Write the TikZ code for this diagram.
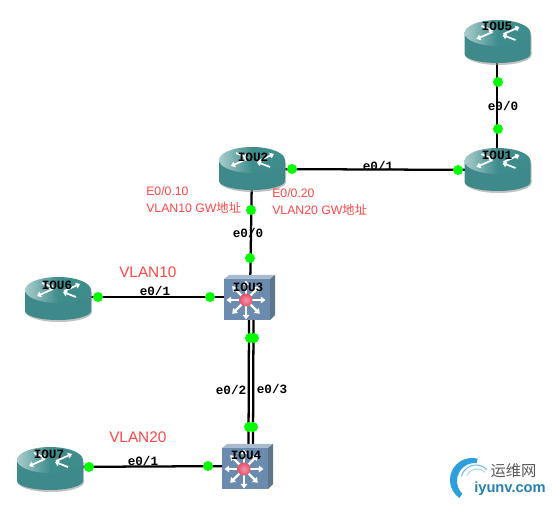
\documentclass[tikz,border=0pt]{standalone}
\usepackage{fontspec}
\setmainfont{Liberation Sans}
\newfontfamily\cjk{Noto Sans CJK SC}
\newfontfamily\lblfont{Liberation Mono}
\usetikzlibrary{arrows.meta}
\definecolor{teal1}{HTML}{3E8A8A}
\definecolor{teal2}{HTML}{A8CCCC}
\definecolor{teal3}{HTML}{3F8C8C}
\definecolor{swfront}{HTML}{6B8CAE}
\definecolor{swtop}{HTML}{A9BBD0}
\definecolor{swside}{HTML}{5F7688}
\definecolor{redtxt}{HTML}{FF4545}
\definecolor{hubred}{HTML}{E8506C}
\definecolor{logoblue}{HTML}{2E9FDC}
\tikzset{
  x=0.75pt,y=-0.75pt,
  anchorbox/.style={inner sep=0pt,minimum size=1pt},
  linkline/.style={line width=1.7pt,black},
  portdot/.style={circle,fill=green,inner sep=0pt,minimum size=7.5pt},
  linklabel/.style={font=\lblfont\bfseries\fontsize{9.5}{10}\selectfont,inner sep=0pt,black},
  devlabel/.style={font=\lblfont\bfseries\fontsize{9.5}{10}\selectfont,inner sep=0pt,black},
  redsmall/.style={font=\fontsize{9.2}{10}\selectfont,text=redtxt,inner sep=0pt,anchor=west},
  redbig/.style={font=\fontsize{11.5}{13}\selectfont,text=redtxt,inner sep=0pt,anchor=west},
  whitearrow/.style={draw=white,line width=1.6pt,-{Triangle[width=5pt,length=3.5pt]}},
  routerarrow/.style={white,line width=1.3pt,-{Triangle[width=4.5pt,length=3pt]}},
  pics/router/.style={code={
    \fill[black!40,opacity=.6] (-32,-8) -- (-32,12) arc[x radius=33,y radius=10,start angle=180,end angle=0] -- (34,-8) -- cycle;
    \fill[teal1] (-33,-10) -- (-33,11) arc[x radius=33,y radius=9,start angle=180,end angle=0] -- (33,-10) -- cycle;
    \shade[left color=teal2,right color=teal3,middle color=teal3] (0,-10) ellipse[x radius=33,y radius=13];
    \draw[routerarrow] (-5,-11) -- (-21,-4);
    \draw[routerarrow] (6,-9) -- (22,-16);
    \draw[routerarrow] (-16,-17) -- (-4,-12);
    \draw[routerarrow] (18,-3) -- (5,-8);
  }},
  pics/mlswitch/.style={code={
    \fill[swtop] (-22,-21) -- (-17,-25) -- (29,-25) -- (24,-21) -- cycle;
    \fill[swside] (24,-21) -- (29,-25) -- (29,15) -- (24,20) -- cycle;
    \fill[swfront] (-22,-21) rectangle (24,20);
    \foreach \a in {0,45,...,315}{
      \draw[whitearrow] (\a:5) -- (\a:19.5);
    }
    \shade[inner color=hubred!60!white,outer color=hubred] (0,0) circle[radius=6.5];
  }}
}
\begin{document}
\begin{tikzpicture}
\useasboundingbox (0,0) rectangle (553,505);
% anchor nodes of devices
\node[anchorbox] (iou1) at (497,170) {};
\node[anchorbox] (iou2) at (252,169) {};
\node[anchorbox] (iou3) at (250,297) {};
\node[anchorbox] (iou4) at (248,466) {};
\node[anchorbox] (iou5) at (497,42) {};
\node[anchorbox] (iou6) at (58,297) {};
\node[anchorbox] (iou7) at (50,467) {};
\coordinate (s3a) at (249,320);
\coordinate (s3b) at (253.5,320);
\coordinate (s4a) at (248.5,446);
\coordinate (s4b) at (253,446);
% connectors
\draw[linkline] (iou5) -- (iou1);
\draw[linkline] (iou2) -- (iou1);
\draw[linkline] (iou2) -- (iou3);
\draw[linkline] (iou6) -- (iou3);
\draw[linkline] (iou7) -- (iou4);
\draw[linkline] (s3a) -- (s4a);
\draw[linkline] (s3b) -- (s4b);
% devices
\pic at (497.5,43) {router};
\pic at (252,170) {router};
\pic at (497.5,171) {router};
\pic at (58,300) {router};
\pic at (50,470) {router};
\pic at (246,300) {mlswitch};
\pic at (244,469) {mlswitch};
% ports
\node[portdot] (p1) at (498,82) {};
\node[portdot] (p2) at (498,129) {};
\node[portdot] (p3) at (292,169) {};
\node[portdot] (p4) at (458,170) {};
\node[portdot] (p5) at (251,210) {};
\node[portdot] (p6) at (250,258) {};
\node[portdot] (p7) at (98,297) {};
\node[portdot] (p8) at (210,297) {};
\node[portdot] (p9) at (89,467) {};
\node[portdot] (p10) at (208,466) {};
\node[portdot] (p11) at (250,338) {};
\node[portdot] (p12) at (254,338) {};
\node[portdot] (p13) at (249,427) {};
\node[portdot] (p14) at (253,427) {};
% device labels
\node[devlabel] (l1) at (497,155) {IOU1};
\node[devlabel] (l2) at (253,157) {IOU2};
\node[devlabel] (l3) at (248,287) {IOU3};
\node[devlabel] (l4) at (246,455) {IOU4};
\node[devlabel] (l5) at (497,26) {IOU5};
\node[devlabel] (l6) at (57,285) {IOU6};
\node[devlabel] (l7) at (49,454) {IOU7};
% link labels
\node[linklabel] (e1) at (503,106) {e0/0};
\node[linklabel] (e2) at (378,166) {e0/1};
\node[linklabel] (e3) at (248,233) {e0/0};
\node[linklabel] (e4) at (155,291) {e0/1};
\node[linklabel] (e5) at (231,390) {e0/2};
\node[linklabel] (e6) at (272,389) {e0/3};
\node[linklabel] (e7) at (143,461) {e0/1};
% red notes
\node[redsmall] (t1) at (146,191) {E0/0.10};
\node[redsmall] (t2) at (146,208) {VLAN10 GW{\cjk 地址}};
\node[redsmall] (t3) at (272,193) {E0/0.20};
\node[redsmall] (t4) at (272,210) {VLAN20 GW{\cjk 地址}};
\node[redbig] (t5) at (119,272) {VLAN10};
\node[redbig] (t6) at (109,437) {VLAN20};
% watermark
\fill[logoblue] ([shift={(472,480)}]125:22) arc[radius=22,start angle=125,end angle=285]
  -- ([shift={(475,481)}]275:18) arc[radius=18,start angle=275,end angle=135] -- cycle;
\draw[logoblue!70,line width=.8pt,line cap=round] ([shift={(476,480)}]195:15) arc[radius=15,start angle=195,end angle=315];
\draw[logoblue!45,line width=.7pt,line cap=round] ([shift={(477,480)}]205:11) arc[radius=11,start angle=205,end angle=315];
\node[font=\cjk\fontsize{11.5}{12}\selectfont,text=black!65,inner sep=0pt] (w1) at (513.5,471) {运维网};
\node[font=\bfseries\fontsize{11}{12}\selectfont,text=logoblue!80!black,inner sep=0pt] (w2) at (510,489) {iyunv.com};
\end{tikzpicture}
\end{document}
